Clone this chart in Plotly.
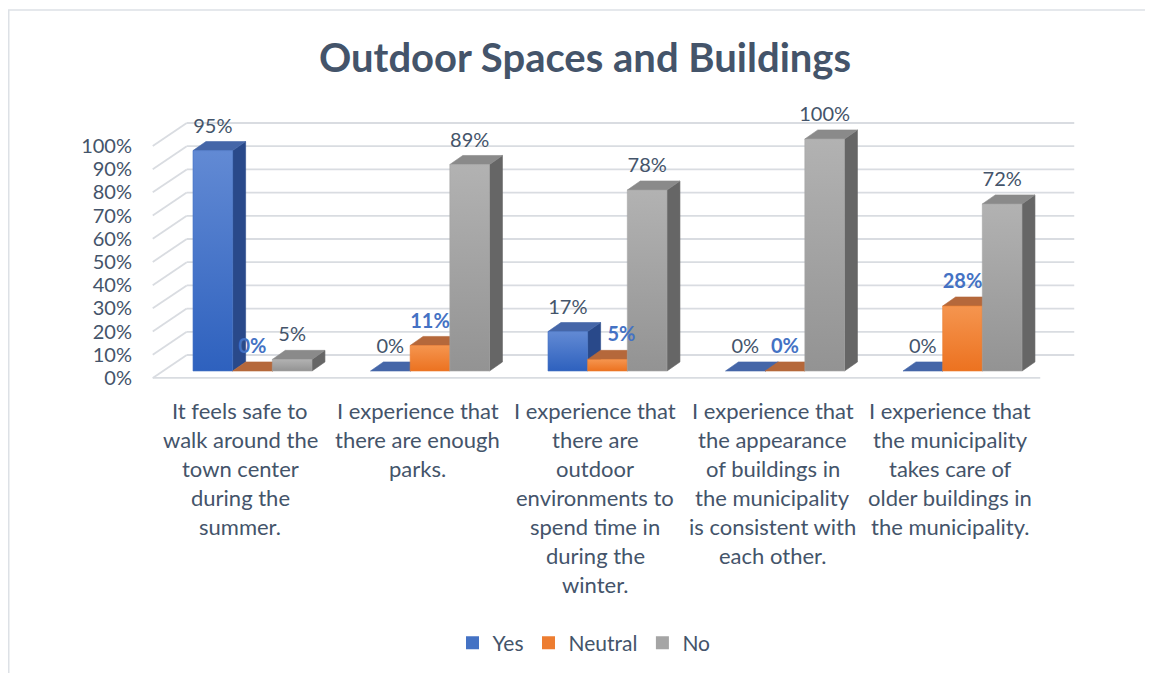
"""Outdoor Spaces and Buildings - grouped column chart drawn with a pseudo-3D look."""
import plotly.graph_objects as go

# ---- data -----------------------------------------------------------------
categories = [
    "It feels safe to<br>walk around the<br>town center<br>during the<br>summer.",
    "I experience that<br>there are enough<br>parks.",
    "I experience that<br>there are<br>outdoor<br>environments to<br>spend time in<br>during the<br>winter.",
    "I experience that<br>the appearance<br>of buildings in<br>the municipality<br>is consistent with<br>each other.",
    "I experience that<br>the municipality<br>takes care of<br>older buildings in<br>the municipality.",
]
series_names = ["Yes", "Neutral", "No"]
yes_pct = [95, 0, 17, 0, 0]
neutral_pct = [0, 11, 5, 0, 28]
no_pct = [5, 89, 78, 100, 72]
y_tick_values = list(range(0, 101, 10))

# ---- styling --------------------------------------------------------------
FONT = "Lato"
TEXT = "#44546A"
GRID = "#D9DCE1"

styles = {
    "Yes": dict(front=("#2E61BE", "#628AD4"), legend="#4472C4", top="#4566A8",
                side="#29498A", label="#44546A", bold=False),
    "Neutral": dict(front=("#EC7220", "#F5954F"), legend="#ED7D31", top="#B5683B",
                    side="#A8551E", label="#4472C4", bold=True),
    "No": dict(front=("#939393", "#B2B2B2"), legend="#A5A5A5", top="#8A8A8A",
               side="#666666", label="#44546A", bold=False),
}
# label placement per series (Excel nudged the crowded 5% label aside)
label_pos = {
    "Yes": ["middle center"] * 5,
    "Neutral": ["middle center", "middle center", "middle right", "middle center", "middle center"],
    "No": ["middle center"] * 5,
}

# pseudo-3D geometry in data units (1 category = 1.0 on x, 1 % = 1.0 on y)
BAR_W = 0.2235
BAR_DX, BAR_DY = 0.073, 3.9        # depth of each column
WALL_DX, WALL_DY = 0.1915, 9.9     # depth of the back wall
FRONT_DX, FRONT_DY = -0.062, -3.0  # front edge of the floor relative to columns
LABEL_DY = 9.9
CAT_LABEL_DX = -0.068

# pixel frame of the plot area; category 0 sits at X0, 0 % at Y0
L, R, T, B = 132, 1082, 92, 382
X0, X_UNIT = 244.5, 177.5
Y0, Y_UNIT = 363, 2.32

fig = go.Figure()
n = len(categories)
values = dict(zip(series_names, [yes_pct, neutral_pct, no_pct]))


def poly(xs, ys, **kw):
    return go.Scatter(x=xs, y=ys, mode="lines", fill="toself", hoverinfo="skip",
                      showlegend=False, **kw)


# columns: side, top and front faces, drawn left to right so neighbours overlap properly
for i in range(n):
    for s, name in enumerate(series_names):
        st = styles[name]
        h = values[name][i]
        x0 = i + (s - 1) * BAR_W - BAR_W / 2
        x1 = x0 + BAR_W
        fig.add_trace(poly([x1, x1 + BAR_DX, x1 + BAR_DX, x1, x1],
                           [0, BAR_DY, h + BAR_DY, h, 0],
                           fillcolor=st["side"], line=dict(width=0.6, color=st["side"])))
        fig.add_trace(poly([x0, x1, x1 + BAR_DX, x0 + BAR_DX, x0],
                           [h, h, h + BAR_DY, h + BAR_DY, h],
                           fillcolor=st["top"], line=dict(width=0.6, color=st["top"])))
        if h > 0:
            fig.add_trace(poly([x0, x1, x1, x0, x0], [0, 0, h, h, 0],
                               fillgradient=dict(type="vertical",
                                                 colorscale=[[0, st["front"][0]],
                                                             [1, st["front"][1]]]),
                               line=dict(width=0.6, color=st["legend"])))

# data labels
for s, name in enumerate(series_names):
    st = styles[name]
    vals = values[name]
    txt = [f"<b>{v}%</b>" if st["bold"] else f"{v}%" for v in vals]
    fig.add_trace(go.Scatter(
        x=[i + (s - 1) * BAR_W for i in range(n)],
        y=[v + LABEL_DY for v in vals],
        mode="text", text=txt, textposition=label_pos[name],
        textfont=dict(family=FONT, size=20, color=st["label"]),
        cliponaxis=False, hoverinfo="skip", showlegend=False,
    ))

# legend entries (square swatches)
for name in series_names:
    fig.add_trace(go.Scatter(x=[None], y=[None], name=name, mode="markers",
                             marker=dict(symbol="square", size=13,
                                         color=styles[name]["legend"])))

# walls: back gridlines, left side diagonals, floor edge
left = -0.5 + FRONT_DX
right = n - 0.5 + FRONT_DX
for v in y_tick_values:
    fig.add_shape(type="line", layer="below", x0=left + WALL_DX, x1=right + WALL_DX,
                  y0=v + FRONT_DY + WALL_DY, y1=v + FRONT_DY + WALL_DY,
                  line=dict(color=GRID, width=1.8))
    fig.add_shape(type="line", layer="below", x0=left, x1=left + WALL_DX,
                  y0=v + FRONT_DY, y1=v + FRONT_DY + WALL_DY,
                  line=dict(color=GRID, width=1.8))
fig.add_shape(type="line", layer="below", x0=left, x1=right, y0=FRONT_DY, y1=FRONT_DY,
              line=dict(color=GRID, width=1.8))

# category labels, one annotation per line for Excel-like line spacing
for i, cat in enumerate(categories):
    for k, line in enumerate(cat.split("<br>")):
        fig.add_annotation(x=i + CAT_LABEL_DX, xref="x", y=0, yref="paper",
                           yanchor="middle", yshift=-20 - 29 * k, text=line,
                           showarrow=False, font=dict(family=FONT, size=22, color=TEXT))

# chart border (top and left edges only visible)
px = lambda p: (p - L) / (R - L)
py = lambda p: (B - p) / (B - T)
fig.add_shape(type="line", xref="paper", yref="paper", x0=px(0), x1=px(1153),
              y0=py(2), y1=py(2), line=dict(color="#DDE1E6", width=1.5))
fig.add_shape(type="line", xref="paper", yref="paper", x0=px(0.75), x1=px(0.75),
              y0=py(2), y1=py(673), line=dict(color="#DDE1E6", width=1.5))

fig.update_layout(
    width=1153, height=673, autosize=False,
    margin=dict(l=L, r=1153 - R, t=T, b=673 - B),
    paper_bgcolor="white", plot_bgcolor="white",
    font=dict(family=FONT, color=TEXT),
    title=dict(text="<b>Outdoor Spaces and Buildings</b>", x=577 / 1153, y=1 - 50 / 673,
               xref="container", yref="container", xanchor="center", yanchor="middle",
               font=dict(family=FONT, size=40, color=TEXT)),
    xaxis=dict(range=[(L - X0) / X_UNIT, (R - X0) / X_UNIT], showgrid=False,
               zeroline=False, showticklabels=False, fixedrange=True),
    yaxis=dict(range=[(Y0 - B) / Y_UNIT, (Y0 - T) / Y_UNIT], showgrid=False, zeroline=False,
               tickvals=[v + FRONT_DY for v in y_tick_values],
               ticktext=[f"{v}%" for v in y_tick_values],
               tickfont=dict(family=FONT, size=20, color=TEXT),
               ticklabelstandoff=7, fixedrange=True),
    legend=dict(orientation="h", x=576 / 1153, y=1 - 635 / 673, xref="container",
                yref="container", xanchor="center", yanchor="middle",
                itemwidth=30, font=dict(family=FONT, size=21, color=TEXT)),
    showlegend=True,
)

fig.write_html("out.html")
